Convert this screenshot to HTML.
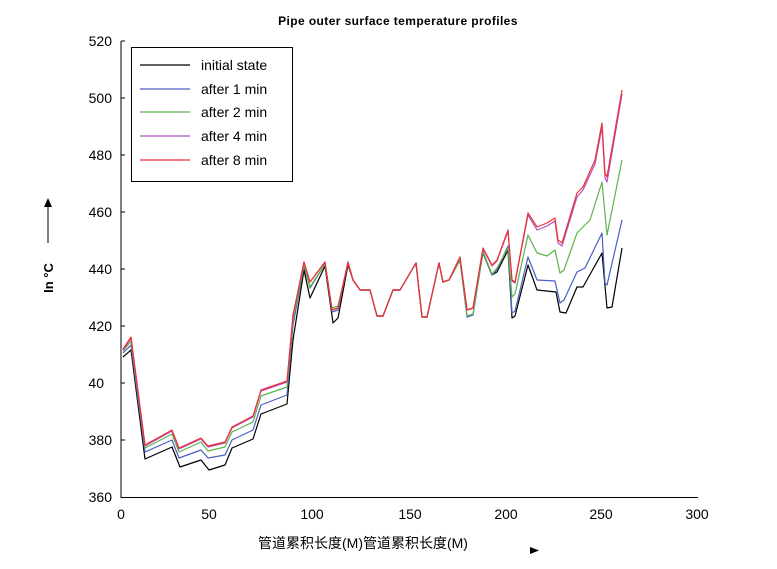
<!DOCTYPE html>
<html><head><meta charset="utf-8"><style>
body{margin:0;background:#fff;}
svg{display:block;font-family:"Liberation Sans","Noto Sans CJK SC",sans-serif;}
</style></head><body>
<svg width="777" height="569" viewBox="0 0 777 569">
<text x="398" y="25" font-size="12" font-weight="bold" text-anchor="middle" letter-spacing="0.4">Pipe outer surface temperature profiles</text>
<line x1="121" y1="41" x2="121" y2="498" stroke="#000"/>
<line x1="121" y1="497.5" x2="698" y2="497.5" stroke="#000"/>
<g stroke="#000">
<line x1="121" y1="41" x2="125" y2="41"/><line x1="121" y1="98" x2="125" y2="98"/><line x1="121" y1="155" x2="125" y2="155"/><line x1="121" y1="212" x2="125" y2="212"/><line x1="121" y1="269" x2="125" y2="269"/><line x1="121" y1="326" x2="125" y2="326"/><line x1="121" y1="383" x2="125" y2="383"/><line x1="121" y1="440" x2="125" y2="440"/>
</g>
<g font-size="14" text-anchor="end">
<text x="112" y="46">520</text><text x="112" y="103">500</text><text x="112" y="160">480</text><text x="112" y="217">460</text><text x="112" y="274">440</text><text x="112" y="331">420</text><text x="104" y="388">40</text><text x="112" y="445">380</text><text x="112" y="502">360</text>
</g>
<g font-size="14" text-anchor="middle">
<text x="121" y="519">0</text><text x="209" y="519">50</text><text x="312" y="519">100</text><text x="410" y="519">150</text><text x="506" y="519">200</text><text x="601" y="519">250</text><text x="697" y="519">300</text>
</g>
<text x="363" y="548" font-size="14" text-anchor="middle">管道累积长度(M)管道累积长度(M)</text>
<polygon points="530,547 530,554 539,550.5" fill="#000"/>
<text transform="translate(53,278) rotate(-90)" font-size="13" font-weight="bold" text-anchor="middle">In °C</text>
<line x1="48" y1="243" x2="48" y2="205" stroke="#000"/>
<polygon points="44,207 52,207 48,198" fill="#000"/>
<g fill="none" stroke-width="1.2" stroke-linejoin="round">
<polyline stroke="#000" points="123,357 131,350 145,459 172,447 180,467 201,460 209,470 225,465 232,448 253,439 261,414 287,404 293,340 304,270 310,298 325,266 333,323 338,318 348,265 353,280 360,290 370,290 377,316 383,316 393,290 400,290 416,263 422,317 427,317 439,263 443,282 449,280 460,260 467,310 473,308 483,253 492,275 497,272 508,250 512,318 515,316 528,265 537,290 556,292 560,312 566,313 577,287 583,287 602,253 607,308 612,307 622,248"/>
<polyline stroke="#4a5fc0" points="123,353 131,345 145,452 172,440 179,458 201,450 208,458 225,455 232,440 253,430 261,405 287,395 293,325 304,266 310,288 325,264 332,312 338,310 348,263 353,280 360,290 370,290 377,316 383,316 393,290 400,290 416,263 422,317 427,317 439,263 443,282 449,280 460,260 467,317 473,315 483,252 492,275 497,270 508,246 512,313 515,311 528,257 537,280 555,281 560,303 564,300 577,272 585,268 602,233 605,283 607,285 622,220"/>
<polyline stroke="#5bb34a" points="123,351 131,341 145,448 172,434 179,452 201,442 208,451 225,447 232,432 253,422 261,396 287,387 293,320 304,265 310,287 325,264 332,308 338,306 348,263 353,280 360,290 370,290 377,316 383,316 393,290 400,290 416,263 422,317 427,317 439,263 443,282 449,280 460,260 467,316 473,314 483,252 492,274 497,268 508,248 512,297 515,294 528,235 537,253 547,256 555,250 560,273 564,270 577,233 590,220 602,182 607,235 622,160"/>
<polyline stroke="#b050c0" points="123,350 131,338 145,446 172,431 179,449 201,439 208,447 225,443 232,428 253,417 261,391 287,382 293,316 304,262 310,282 325,262 332,310 338,308 348,262 353,280 360,290 370,290 377,316 383,316 393,290 400,290 416,263 422,317 427,317 439,263 443,282 449,280 460,257 467,310 473,308 483,249 492,266 497,261 508,231 512,281 515,283 528,215 537,230 547,226 555,221 558,243 562,246 577,197 583,190 595,164 602,127 605,178 607,182 622,94"/>
<polyline stroke="#f03030" points="123,349 131,337 145,445 172,430 179,448 201,438 208,446 225,442 232,427 253,416 261,390 287,381 293,315 304,262 310,282 325,262 332,310 338,308 348,262 353,280 360,290 370,290 377,316 383,316 393,290 400,290 416,263 422,317 427,317 439,263 443,282 449,280 460,257 467,310 473,308 483,248 492,265 497,260 508,230 512,280 515,282 528,213 537,227 547,223 555,218 558,240 562,243 577,193 583,187 595,160 602,123 605,173 607,177 622,90"/>
</g>
<rect x="131.5" y="47.5" width="161" height="134" fill="#fff" stroke="#000"/>
<g stroke-width="1.2">
<line x1="140" y1="65" x2="190" y2="65" stroke="#000"/>
<line x1="140" y1="89" x2="190" y2="89" stroke="#4a5fc0"/>
<line x1="140" y1="112" x2="190" y2="112" stroke="#5bb34a"/>
<line x1="140" y1="136" x2="190" y2="136" stroke="#b050c0"/>
<line x1="140" y1="160" x2="190" y2="160" stroke="#f03030"/>
</g>
<g font-size="14">
<text x="201" y="70">initial state</text><text x="201" y="94">after 1 min</text><text x="201" y="117">after 2 min</text><text x="201" y="141">after 4 min</text><text x="201" y="165">after 8 min</text>
</g>
</svg>
</body></html>
